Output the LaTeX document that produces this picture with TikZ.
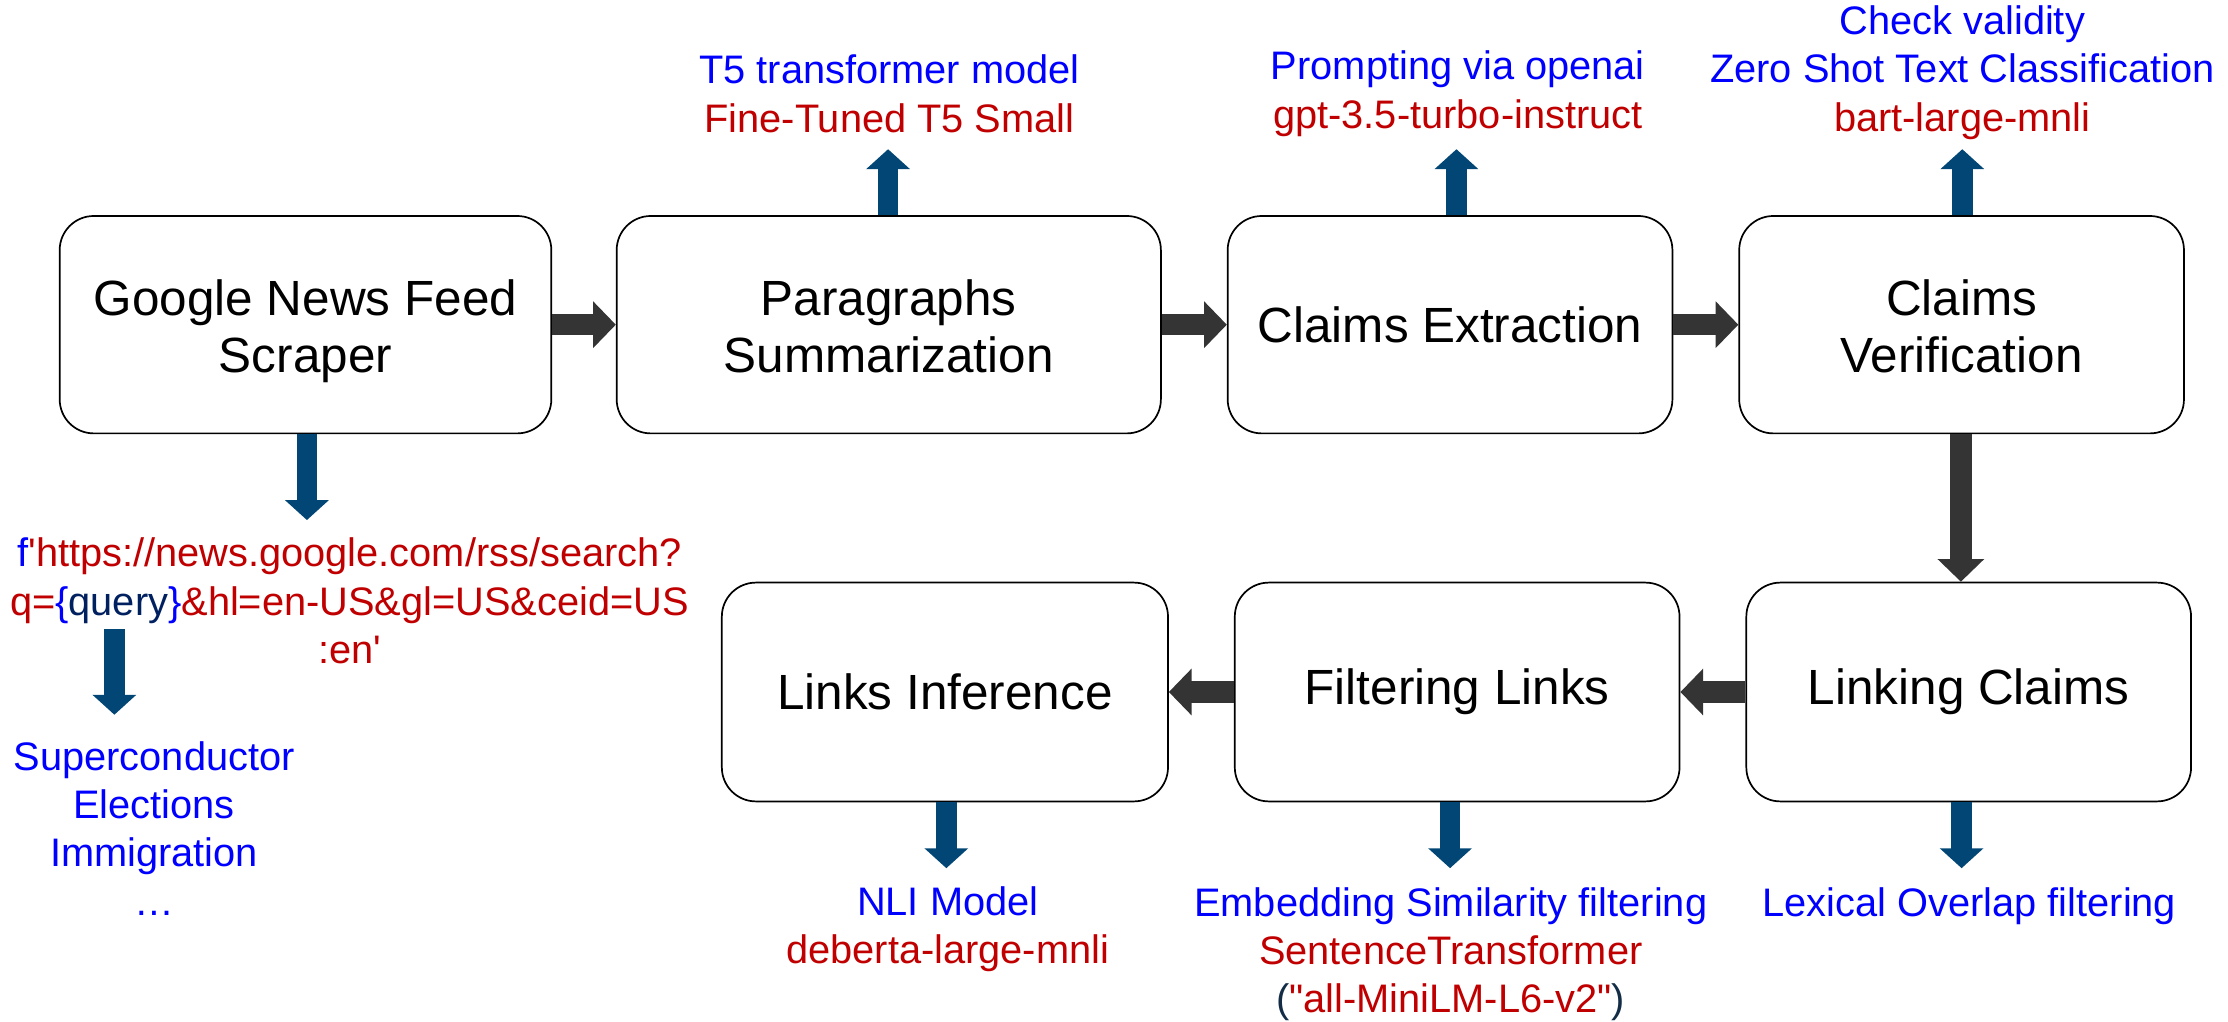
\documentclass[tikz,border=0pt]{standalone}
\usepackage{fontspec}
\setmainfont{Liberation Sans}
\usetikzlibrary{arrows.meta}
\definecolor{tblue}{RGB}{0,0,255}
\definecolor{tred}{RGB}{192,0,0}
\definecolor{tnavy}{RGB}{0,32,96}
\definecolor{tparen}{RGB}{20,45,70}
\definecolor{arrblue}{RGB}{1,70,117}
\definecolor{arrgray}{RGB}{52,52,52}
\newcommand{\twolines}[2]{\raisebox{-2.75pt}[\height][\depth]{\begin{tabular}{@{}c@{}}#1\\#2\end{tabular}}}
\tikzset{
  stepbox/.style={draw=black, line width=0.6pt, rounded corners=12pt, fill=white,
    minimum height=76.5pt, align=center, inner sep=0pt,
    font=\fontsize{17.4pt}{20pt}\selectfont},
  ann/.style={align=center, inner sep=0pt, font=\fontsize{14pt}{17pt}\selectfont},
  grayarrow/.style={draw=arrgray, line width=7.5pt, -{Triangle[width=16pt,length=8pt]}},
  bluearrow/.style={draw=arrblue, line width=7.25pt, -{Triangle[width=15pt,length=7pt]}},
}
\begin{document}
\begin{tikzpicture}[x=0.5pt,y=-0.5pt]
\useasboundingbox (0,0) rectangle (1568,719);
% main boxes
\node[stepbox, minimum width=173pt]   (b1) at (215,228.5)  {\twolines{Google News Feed}{Scraper}};
\node[stepbox, minimum width=191.5pt] (b2) at (625.5,228.5){\twolines{Paragraphs}{Summarization}};
\node[stepbox, minimum width=156.5pt] (b3) at (1020.5,228.5){Claims Extraction};
\node[stepbox, minimum width=156.5pt] (b4) at (1380.5,228.5){\twolines{Claims}{Verification}};
\node[stepbox, minimum width=157pt, minimum height=77pt]   (b5) at (665,487)   {Links Inference};
\node[stepbox, minimum width=156.5pt, minimum height=77pt] (b6) at (1025.5,487){Filtering Links};
\node[stepbox, minimum width=156.5pt, minimum height=77pt] (b7) at (1385.5,487){Linking Claims};

% annotations
\node[ann] (a2) at (626,66) {\textcolor{tblue}{T5 transformer model}\\\textcolor{tred}{Fine-Tuned T5 Small}};
\node[ann] (a3) at (1026,66) {\textcolor{tblue}{Prompting via openai}\\\textcolor{tred}{gpt-3.5-turbo-instruct}};
\node[ann] (a4) at (1381,51) {\textcolor{tblue}{Check validity}\\\textcolor{tblue}{Zero Shot Text Classification}\\\textcolor{tred}{bart-large-mnli}};
\node[ann] (url) at (246,423) {\textcolor{tblue}{f}\textcolor{tred}{\textquotesingle https://news.google.com/rss/search?}\\
  \textcolor{tred}{q=}\textcolor{tblue}{\{}\textcolor{tnavy}{query}\textcolor{tblue}{\}}\textcolor{tred}{\&hl=en-US\&gl=US\&ceid=US}\\
  \textcolor{tred}{:en\textquotesingle}};
\node[ann] (topics) at (108.5,583) {\textcolor{tblue}{Superconductor}\\\textcolor{tblue}{Elections}\\\textcolor{tblue}{Immigration}\\\textcolor{tblue}{…}};
\node[ann] (a5) at (667,654) {\textcolor{tblue}{NLI Model}\\\textcolor{tred}{deberta-large-mnli}};
\node[ann] (a6) at (1021,671.5) {\textcolor{tblue}{Embedding Similarity filtering}\\\textcolor{tred}{SentenceTransformer}\\\textcolor{tparen}{(}\textcolor{tred}{\textquotedbl all-MiniLM-L6-v2\textquotedbl}\textcolor{tparen}{)}};
\node[ann] (a7) at (1386,638) {\textcolor{tblue}{Lexical Overlap filtering}};

% flow arrows
\draw[grayarrow] (b1.east) -- (b2.west);
\draw[grayarrow] (b2.east) -- (b3.west);
\draw[grayarrow] (b3.east) -- (b4.west);
\coordinate (c47) at (1380,0);
\draw[grayarrow] (b4.south -| c47) -- (b7.north -| c47);
\draw[grayarrow] (b7.west) -- (b6.east);
\draw[grayarrow] (b6.west) -- (b5.east);

% annotation arrows
\coordinate (t1) at (216,366);
\draw[bluearrow] (b1.south -| t1) -- (t1);
\coordinate (s0) at (80.5,443);
\coordinate (t0) at (80.5,503);
\draw[bluearrow] (s0) -- (t0);
\coordinate (t2) at (625,105);
\draw[bluearrow] (b2.north -| t2) -- (t2);
\coordinate (t3) at (1025,105);
\draw[bluearrow] (b3.north -| t3) -- (t3);
\coordinate (t4) at (1381,105);
\draw[bluearrow] (b4.north -| t4) -- (t4);
\coordinate (t5) at (666,611);
\draw[bluearrow] (b5.south -| t5) -- (t5);
\coordinate (t6) at (1020.5,611);
\draw[bluearrow] (b6.south -| t6) -- (t6);
\coordinate (t7) at (1380.5,611);
\draw[bluearrow] (b7.south -| t7) -- (t7);
\end{tikzpicture}
\end{document}
